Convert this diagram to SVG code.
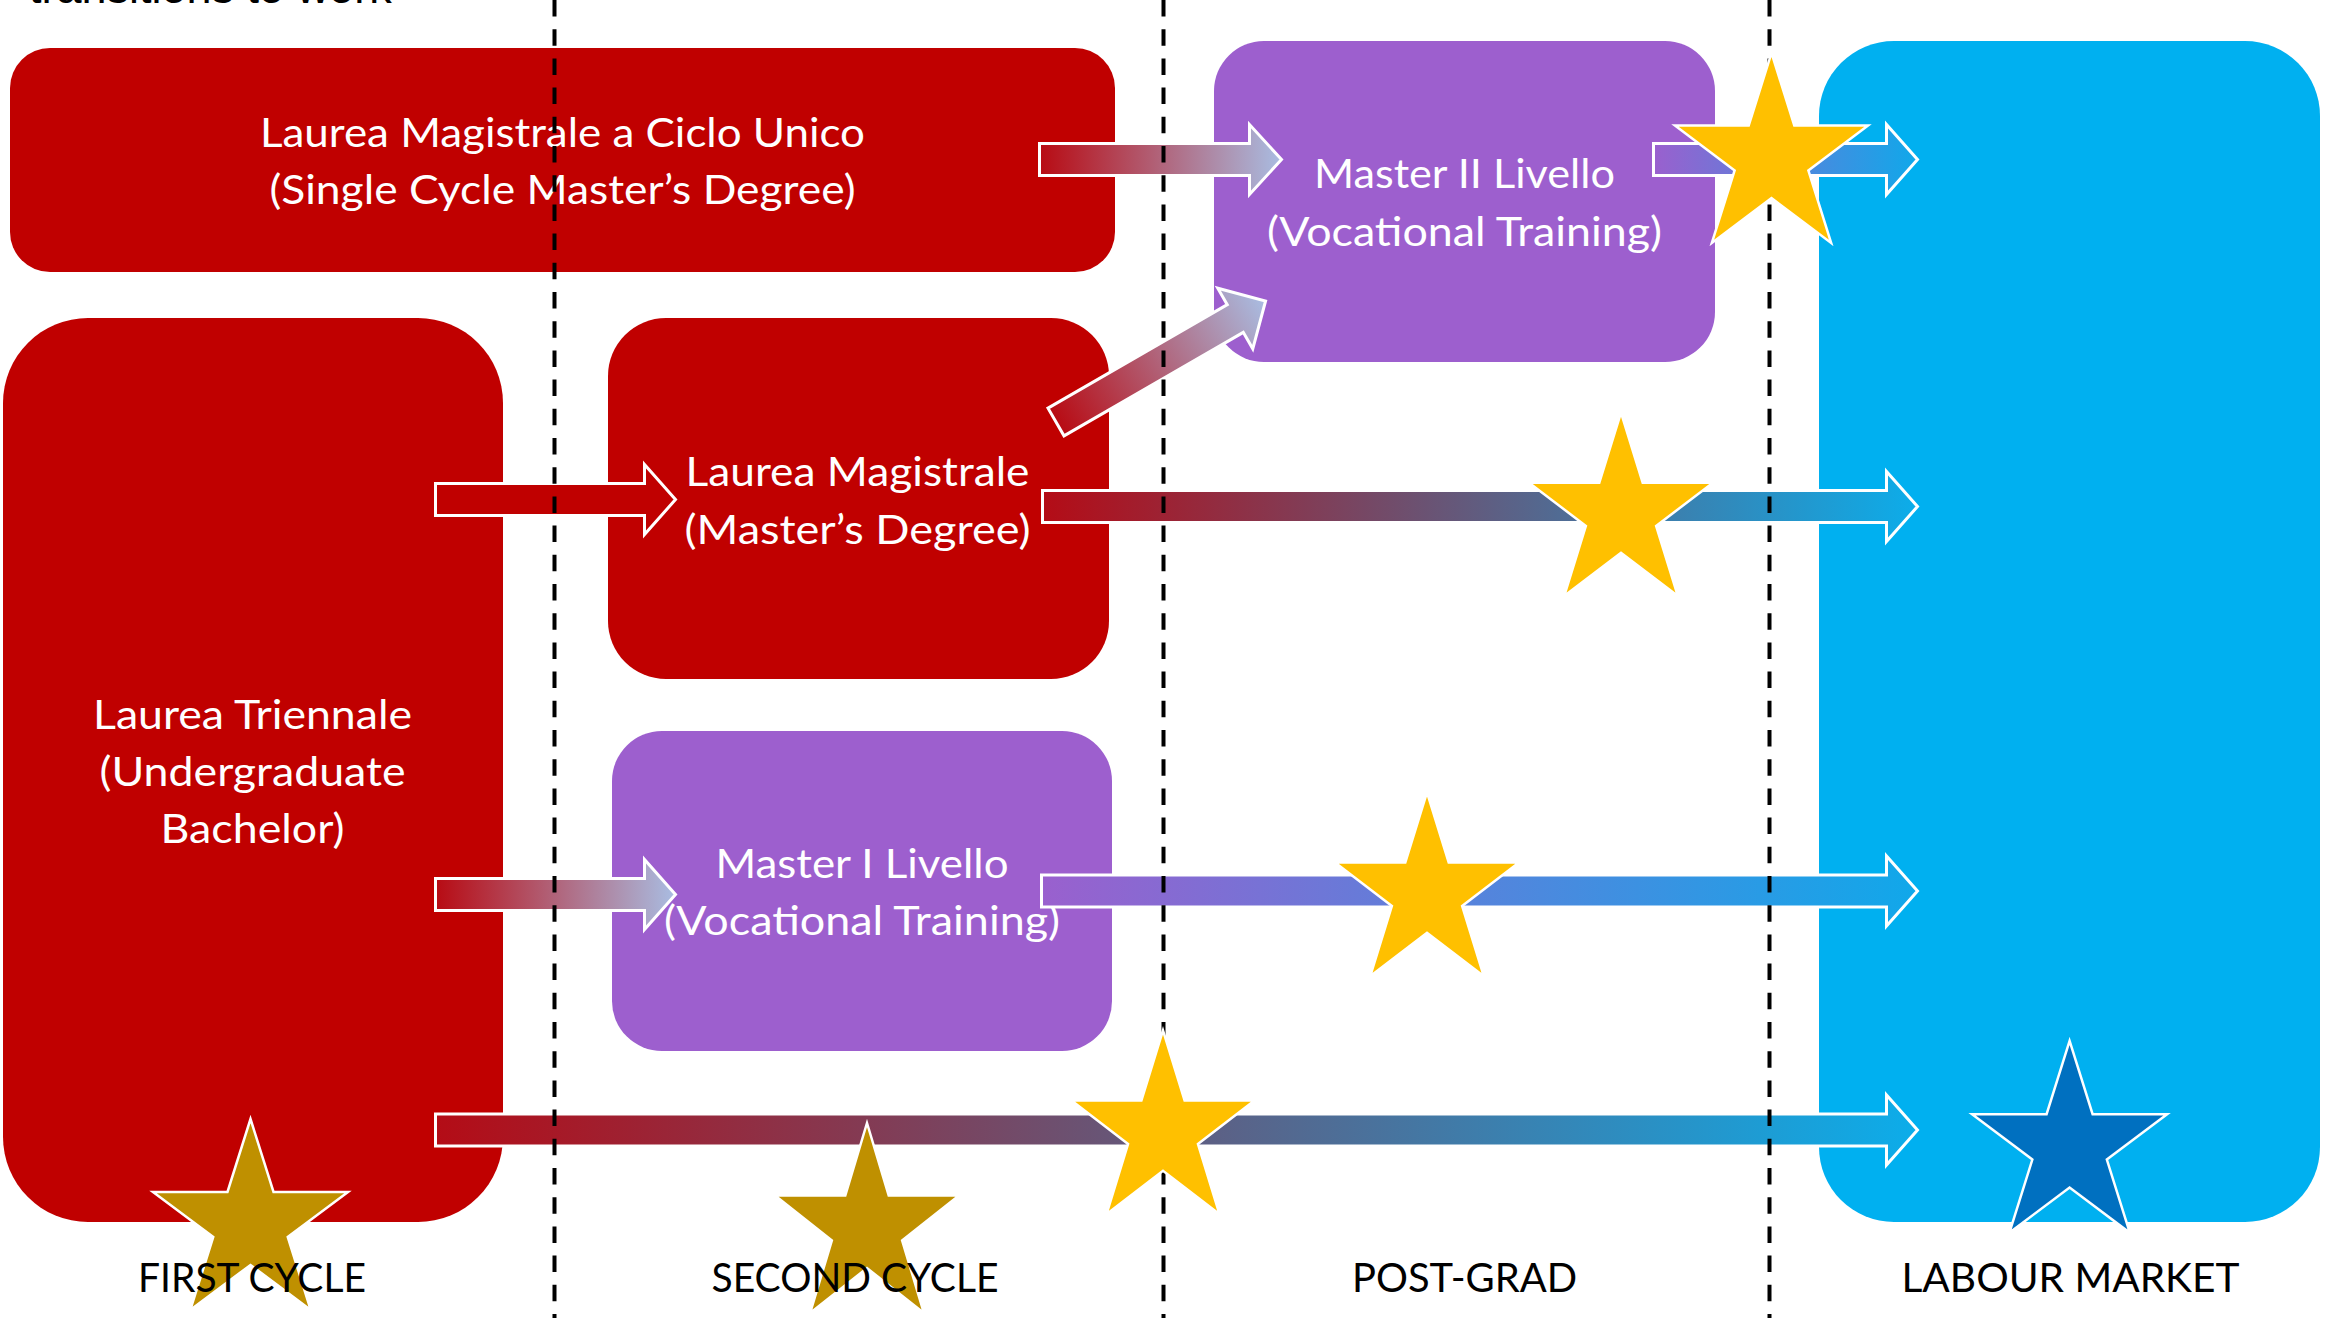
<svg xmlns="http://www.w3.org/2000/svg" xmlns:xlink="http://www.w3.org/1999/xlink" width="2331" height="1318" viewBox="0 0 2331 1318">
<style>
.red{fill:#C00000}
.purple{fill:#9D5FCE}
.blue{fill:#00B0F0}
.nt{font-family:Lato,"Open Sans","Liberation Sans",sans-serif;font-size:41px;fill:#FFFFFF;text-anchor:middle}
.lbl{font-family:Lato,"Open Sans","Liberation Sans",sans-serif;font-size:41px;fill:#000000;text-anchor:middle}
.arrow{stroke:#FFFFFF;stroke-width:3;stroke-linejoin:miter}
.dash{stroke:#000000;stroke-width:4;stroke-dasharray:16.5 12.7;fill:none}
.star{stroke:#FFFFFF;stroke-width:2.5}
.gold{fill:#FFC000}
.dgold{fill:#BF9000}
.dblue{fill:#0070C0}
</style>
<defs>
<linearGradient id="gRedLight" x1="0" y1="0" x2="1" y2="0">
<stop offset="0" stop-color="#B80B13"/>
<stop offset="1" stop-color="#A9BDE2"/>
</linearGradient>
<linearGradient id="gRedBlue" x1="0" y1="0" x2="1" y2="0">
<stop offset="0" stop-color="#B40C16"/>
<stop offset="1" stop-color="#0CADEA"/>
</linearGradient>
<linearGradient id="gPurpleBlue" x1="0" y1="0" x2="1" y2="0">
<stop offset="0" stop-color="#9A60CE"/>
<stop offset="1" stop-color="#10A8EA"/>
</linearGradient>
<path id="star" vector-effect="non-scaling-stroke" d="M0,-100 L22.45,-30.9 L95.11,-30.9 L36.33,11.8 L58.78,80.9 L0,38.2 L-58.78,80.9 L-36.33,11.8 L-95.11,-30.9 L-22.45,-30.9 Z"/>
</defs>
<rect x="0" y="0" width="2331" height="1318" fill="#FFFFFF"/>
<text x="29" y="3" font-family="'Liberation Sans',Arial,sans-serif" font-size="45" fill="#000000">transitions to work</text>

<g id="node-ciclo-unico">
<rect class="red" x="10" y="48" width="1105" height="224" rx="40" ry="40"/>
<text class="nt" x="562.5" y="147" textLength="605" lengthAdjust="spacingAndGlyphs">Laurea Magistrale a Ciclo Unico</text>
<text class="nt" x="562.5" y="204" textLength="586" lengthAdjust="spacingAndGlyphs">(Single Cycle Master’s Degree)</text>
</g>
<g id="node-triennale">
<rect class="red" x="3" y="318" width="500" height="904" rx="85" ry="85"/>
<text class="nt" x="252.5" y="728.5" textLength="319" lengthAdjust="spacingAndGlyphs">Laurea Triennale</text>
<text class="nt" x="252.5" y="785.5" textLength="306" lengthAdjust="spacingAndGlyphs">(Undergraduate</text>
<text class="nt" x="252.5" y="842.5" textLength="184" lengthAdjust="spacingAndGlyphs">Bachelor)</text>
</g>
<g id="node-magistrale">
<rect class="red" x="608" y="318" width="501" height="361" rx="58" ry="58"/>
<text class="nt" x="857.5" y="486" textLength="344" lengthAdjust="spacingAndGlyphs">Laurea Magistrale</text>
<text class="nt" x="857.5" y="543.5" textLength="346" lengthAdjust="spacingAndGlyphs">(Master’s Degree)</text>
</g>
<g id="node-master-1">
<rect class="purple" x="612" y="731" width="500" height="320" rx="50" ry="50"/>
<text class="nt" x="862" y="878" textLength="293" lengthAdjust="spacingAndGlyphs">Master I Livello</text>
<text class="nt" x="862" y="935" textLength="396" lengthAdjust="spacingAndGlyphs">(Vocational Training)</text>
</g>
<g id="node-master-2">
<rect class="purple" x="1214" y="41" width="501" height="321" rx="50" ry="50"/>
<text class="nt" x="1464.5" y="188" textLength="301" lengthAdjust="spacingAndGlyphs">Master II Livello</text>
<text class="nt" x="1464.5" y="246" textLength="395" lengthAdjust="spacingAndGlyphs">(Vocational Training)</text>
</g>
<g id="node-labour-market">
<rect class="blue" x="1819" y="41" width="501" height="1181" rx="75" ry="75"/>
</g>

<g id="connectors">
<path class="arrow" fill="url(#gRedLight)" d="M1039.5,143.5 H1249.5 V124.5 L1281.5,159.5 L1249.5,194.5 V175.5 H1039.5 Z"/>
<path class="arrow" fill="url(#gPurpleBlue)" d="M1653.5,143.5 H1886.5 V124.5 L1917.5,159.5 L1886.5,194.5 V175.5 H1653.5 Z"/>
<path class="arrow" fill="#C00000" d="M435.5,483.5 H644.5 V464.5 L675.5,499.5 L644.5,534.5 V515.5 H435.5 Z"/>
<path class="arrow" fill="url(#gRedLight)" transform="translate(1056,422) rotate(-30)" d="M0,-16 H207 V-35 L242,0 L207,35 V16 H0 Z"/>
<path class="arrow" fill="url(#gRedLight)" d="M435.5,878.5 H644.5 V859.5 L675.5,894.5 L644.5,929.5 V910.5 H435.5 Z"/>
<path class="arrow" fill="url(#gRedBlue)" d="M1042.5,490.5 H1886.5 V471.5 L1917.5,506.5 L1886.5,541.5 V522.5 H1042.5 Z"/>
<path class="arrow" fill="url(#gPurpleBlue)" d="M1041.5,875 H1886.5 V856 L1917.5,891 L1886.5,926 V907 H1041.5 Z"/>
<path class="arrow" fill="url(#gRedBlue)" d="M435.5,1114 H1886.5 V1095 L1917.5,1130 L1886.5,1165 V1146 H435.5 Z"/>
</g>

<g id="dividers">
<line class="dash" x1="554.5" y1="0" x2="554.5" y2="1318"/>
<line class="dash" x1="1163.5" y1="0" x2="1163.5" y2="1318"/>
<line class="dash" x1="1769.5" y1="0" x2="1769.5" y2="1318"/>
</g>

<g id="stars">
<use xlink:href="#star" class="star gold" transform="translate(1771.5,158) scale(1.015,1.05)"/>
<use xlink:href="#star" class="star gold" transform="translate(1621,514) scale(0.967,1.014)"/>
<use xlink:href="#star" class="star gold" transform="translate(1427,894) scale(0.967,1.017)"/>
<use xlink:href="#star" class="star gold" transform="translate(1163,1132) scale(0.962,1.017)"/>
<use xlink:href="#star" class="star dgold" transform="translate(250.5,1224.6) scale(1.025,1.056)"/>
<use xlink:href="#star" class="star dgold" transform="translate(867,1228) scale(0.967,1.05)"/>
<use xlink:href="#star" class="star dblue" transform="translate(2069.6,1147) scale(1.025,1.061)"/>
</g>

<g id="phase-labels">
<text class="lbl" x="252" y="1292" textLength="228" lengthAdjust="spacingAndGlyphs">FIRST CYCLE</text>
<text class="lbl" x="855" y="1292" textLength="287" lengthAdjust="spacingAndGlyphs">SECOND CYCLE</text>
<text class="lbl" x="1464.5" y="1292" textLength="225" lengthAdjust="spacingAndGlyphs">POST-GRAD</text>
<text class="lbl" x="2070.5" y="1292" textLength="338" lengthAdjust="spacingAndGlyphs">LABOUR MARKET</text>
</g>
</svg>
